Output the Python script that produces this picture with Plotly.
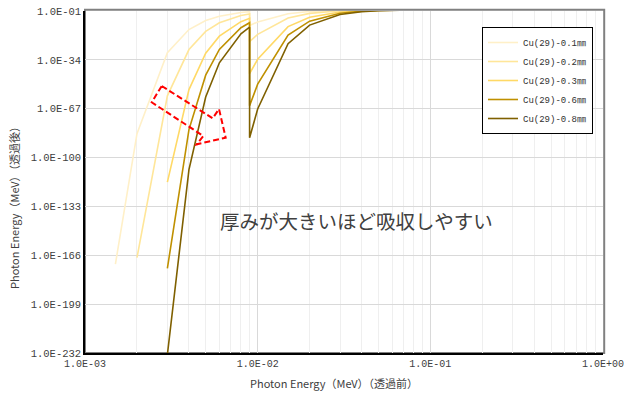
import plotly.graph_objects as go

# Photon energy before transmission (MeV); K-edge of Cu appears twice
energy_mev = [0.0015, 0.002, 0.003, 0.004, 0.005, 0.006, 0.008, 0.0089789, 0.0089789,
              0.01, 0.015, 0.02, 0.03, 0.04, 0.05, 0.06, 0.08, 0.1, 0.15, 0.2, 0.3,
              0.4, 0.5, 0.6, 0.8, 1.0]

series_names = ["Cu(29)-0.1㎜", "Cu(29)-0.2㎜", "Cu(29)-0.3㎜", "Cu(29)-0.6㎜", "Cu(29)-0.8㎜"]

cu_01 = [1.20e-172, 1.51e-84, 7.24e-30, 3.05e-14, 4.07e-8, 3.18e-5, 9.02e-3, 3.24e-2, 1.47e-11,
         3.97e-9, 1.31e-3, 4.84e-2, 0.376, 0.647, 0.791, 0.867, 0.934, 0.960, 0.980, 0.986,
         0.990, 0.992, 0.993, 0.993, 0.994, 0.995]
cu_02 = [None, 2.29e-168, 5.25e-59, 9.33e-28, 1.66e-15, 1.01e-9, 8.13e-5, 1.05e-3, 2.16e-22,
         1.58e-17, 1.72e-6, 2.34e-3, 0.141, 0.418, 0.626, 0.752, 0.872, 0.921, 0.961, 0.972,
         0.980, 0.983, 0.985, 0.986, 0.988, 0.990]
cu_03 = [None, None, 2.75e-117, 8.71e-55, 2.75e-30, 1.02e-18, 6.61e-9, 1.10e-6, 4.68e-44,
         2.51e-34, 2.95e-12, 5.50e-6, 2.00e-2, 0.175, 0.392, 0.565, 0.761, 0.849, 0.924, 0.946,
         0.961, 0.967, 0.971, 0.973, 0.977, 0.979]
cu_06 = [None, None, 1.48e-175, 8.13e-82, 4.57e-45, 1.02e-27, 5.37e-13, 1.15e-9, 1.00e-65,
         3.89e-51, 5.13e-18, 1.29e-8, 2.82e-3, 7.32e-2, 0.245, 0.425, 0.663, 0.782, 0.888, 0.920,
         0.942, 0.951, 0.956, 0.960, 0.965, 0.969]
cu_08 = [None, None, 7.94e-234, 7.59e-109, 7.59e-60, 1.02e-36, 4.37e-17, 1.20e-12, 2.19e-87,
         6.17e-68, 8.91e-24, 3.02e-11, 3.99e-4, 3.06e-2, 0.154, 0.319, 0.579, 0.720, 0.853, 0.894,
         0.923, 0.935, 0.942, 0.947, 0.954, 0.959]

series_values = [cu_01, cu_02, cu_03, cu_06, cu_08]
series_colors = ["#FFF0C8", "#FFE699", "#FFD966", "#BF9000", "#7F6000"]

x_tickvals = [1e-3, 1e-2, 1e-1, 1.0]
x_ticktext = ["1.0E-03", "1.0E-02", "1.0E-01", "1.0E+00"]
x_minor = [m * d for d in (1e-3, 1e-2, 1e-1) for m in range(2, 10)]

y_tickvals = [1e-1, 1e-34, 1e-67, 1e-100, 1e-133, 1e-166, 1e-199, 1e-232]
y_ticktext = ["1.0E-01", "1.0E-34", "1.0E-67", "1.0E-100", "1.0E-133", "1.0E-166", "1.0E-199", "1.0E-232"]

FONT = "Noto Sans CJK JP"
MONO = "Liberation Mono, Noto Sans CJK JP"
TXT = "#404040"

fig = go.Figure()
for name, vals, col in zip(series_names, series_values, series_colors):
    fig.add_trace(go.Scatter(x=energy_mev, y=vals, mode="lines", name=name,
                             line=dict(color=col, width=1.6), connectgaps=False))

L, R, T, B = 85, 21, 11, 41
W, H = 624, 394
pw, ph = W - L - R, H - T - B

def px(x):
    return (x - L) / pw

def py(y):
    return (H - B - y) / ph

arrow_pts = [(161.7, 86), (212.7, 118.3), (219, 109), (225.7, 137.7),
             (196.7, 144.3), (203.3, 136), (151.7, 102.3)]
path = "M " + " L ".join(f"{px(a):.4f},{py(b):.4f}" for a, b in arrow_pts) + " Z"

fig.update_layout(
    width=W, height=H,
    margin=dict(l=L, r=R, t=T, b=B, autoexpand=False),
    paper_bgcolor="white", plot_bgcolor="white",
    font=dict(family=FONT, size=11, color=TXT),
    showlegend=True,
    legend=dict(x=px(482), y=py(27), xanchor="left", yanchor="top",
                bgcolor="white", bordercolor="#000000", borderwidth=1,
                font=dict(family=MONO, size=9, color="#303030"),
                tracegroupgap=0, itemwidth=30),
    xaxis=dict(type="log", range=[-3, 0], tickmode="array", tickvals=x_tickvals,
               ticktext=x_ticktext, showgrid=True, gridcolor="#D9D9D9", gridwidth=1,
               minor=dict(tickvals=x_minor, showgrid=True, gridcolor="#EFEFEF", gridwidth=1, ticks=""),
               showline=True, linecolor="#000000", linewidth=1.5, ticks="", zeroline=False,
               automargin=False, ticklabeloverflow="allow",
               tickfont=dict(family=MONO, size=10, color=TXT)),
    yaxis=dict(type="log", range=[-232, -1], tickmode="array", tickvals=y_tickvals,
               ticktext=y_ticktext, showgrid=True, gridcolor="#D9D9D9", gridwidth=1,
               showline=True, linecolor="#000000", linewidth=1.5, ticks="", zeroline=False,
               automargin=False, ticklabeloverflow="allow",
               tickfont=dict(family=MONO, size=10.5, color=TXT)),
    shapes=[
        dict(type="rect", xref="paper", yref="paper", x0=0, y0=0,
             x1=1 + 1.2 / pw, y1=1 + 1.2 / ph, line=dict(color="#808080", width=2), layer="below"),
        dict(type="path", xref="paper", yref="paper", path=path,
             line=dict(color="#FF0000", width=2, dash="6px,3px"), fillcolor="rgba(0,0,0,0)", layer="above"),
    ],
    annotations=[
        dict(text="厚みが大きいほど吸収しやすい", xref="paper", yref="paper",
             x=px(356), y=py(220), showarrow=False, xanchor="center", yanchor="middle",
             font=dict(family=FONT, size=19.5, color=TXT)),
        dict(text="Photon Energy（MeV）（透過前）", xref="paper", yref="paper",
             x=px(334), y=py(383), showarrow=False, xanchor="center", yanchor="middle",
             font=dict(family=FONT, size=11, color=TXT)),
        dict(text="Photon Energy（MeV）（透過後）", xref="paper", yref="paper",
             x=px(14), y=py(205), showarrow=False, xanchor="center", yanchor="middle",
             textangle=-90, font=dict(family=FONT, size=11, color=TXT)),
    ],
)

fig.write_html("out.html", config={"displayModeBar": False},
               post_script="document.body.style.margin='0';")
